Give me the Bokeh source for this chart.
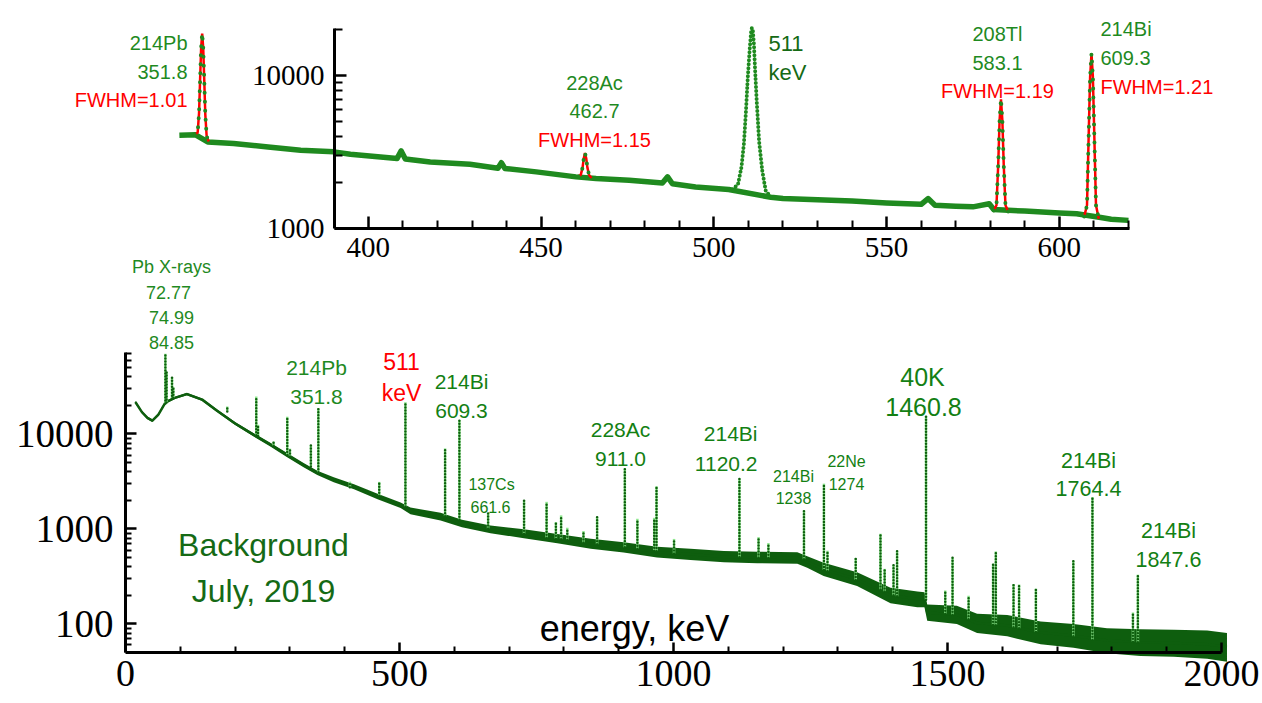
import math
from bokeh.plotting import figure
from bokeh.models import (Label, FixedTicker, Range1d, BasicTickFormatter, LinearAxis, LogAxis,
                          LogScale)
from bokeh.embed import file_html
from bokeh.resources import INLINE

# ---------------- main spectrum: continuum (keV, counts, band low/high) ----------------
main_energy = [18, 30, 40, 49, 60, 73, 90, 112, 140, 167, 200, 234, 265, 295, 325, 350, 380, 417,
               460, 502, 520, 575, 614, 666, 727, 788, 849, 909, 970, 1031, 1092, 1153, 1226, 1244,
               1274, 1335, 1396, 1445, 1458, 1463, 1517, 1554, 1609, 1670, 1730, 1791, 1852, 1913,
               1974, 2010]
main_counts = [21700, 17000, 14800, 13800, 16000, 21500, 24000, 26300, 23000, 17600, 12900, 9800,
               7700, 6000, 4700, 3900, 3300, 2780, 2200, 1780, 1550, 1350, 1140, 990, 890, 790, 700,
               640, 570, 540, 510, 500, 495, 450, 375, 295, 200, 183, 180, 132, 125, 102, 96, 81, 75,
               67, 64, 63, 61, 57]
main_low = [21000, 16500, 14300, 13400, 15500, 20800, 23300, 25500, 22300, 17000, 12400, 9400,
            7350, 5700, 4450, 3700, 3100, 2620, 2060, 1660, 1430, 1230, 1040, 900, 800, 705, 620,
            565, 500, 470, 445, 435, 430, 390, 320, 250, 165, 150, 150, 108, 100, 80, 74, 61, 56,
            49, 46, 45, 43, 40]
main_high = [22400, 17500, 15300, 14200, 16500, 22200, 24700, 27100, 23700, 18200, 13400, 10200,
             8050, 6300, 4950, 4100, 3500, 2950, 2350, 1900, 1680, 1480, 1250, 1090, 990, 885, 790,
             725, 650, 620, 585, 575, 570, 515, 440, 350, 240, 220, 215, 160, 155, 128, 124, 106,
             100, 90, 88, 87, 85, 80]

# ---------------- main spectrum: gamma lines (keV, peak top, foot) ----------------
line_energy = [72.8, 75.0, 84.9, 87.3, 185.7, 238.6, 241.9, 270.2, 295.2, 300.1, 338.3, 351.9,
               409.5, 463.0, 510.8, 583.2, 609.3, 661.7, 727.3, 768.4, 785.4, 794.9, 806.2, 835.7,
               860.6, 911.2, 934.1, 964.8, 969.0, 1001.0, 1120.3, 1155.2, 1173.2, 1238.1, 1274.5,
               1281.0, 1332.5, 1377.7, 1385.3, 1401.5, 1408.0, 1460.8, 1495.9, 1509.2, 1538.5,
               1583.2, 1588.2, 1620.5, 1630.6, 1661.3, 1729.6, 1764.5, 1838.4, 1847.4]
line_top = [70000, 45000, 39500, 31000, 19500, 24800, 12500, 8300, 15200, 7000, 7650, 18700,
            3150, 3130, 21600, 7050, 14000, 1470, 2000, 1930, 1180, 1390, 1030, 950, 1340, 4330,
            1280, 1310, 2820, 785, 3400, 820, 710, 1570, 3000, 590, 495, 890, 380, 420, 590, 15500,
            225, 500, 198, 430, 580, 263, 260, 235, 465, 2170, 132, 330]
line_base = [21000, 21500, 23500, 24000, 17200, 9700, 9500, 7500, 6000, 5800, 4550, 3950,
             2750, 2230, 1720, 1360, 1250, 1010, 890, 810, 790, 780, 770, 720, 690, 640, 620, 590,
             585, 550, 505, 500, 498, 480, 370, 360, 290, 230, 220, 200, 195, 180, 128, 125, 112,
             98, 97, 92, 90, 82, 74, 68, 65, 64]

# ---------------- inset: continuum 345-620 keV ----------------
inset_energy = [345.3, 350.0, 353.5, 361, 371, 380.4, 390, 394.8, 408.3, 409.5, 410.7, 417.9,
                429.4, 437.5, 438.5, 439.5, 448.6, 460.1, 465.9, 475.5, 485.1, 486.6, 488, 494.7,
                504.3, 516.5, 520, 530, 540, 550, 560, 562, 564, 570, 575, 579.7, 581, 590, 600,
                605, 612, 615, 620]
inset_counts = [4070, 4100, 3680, 3600, 3410, 3250, 3170, 3060, 2865, 3215, 2850, 2720, 2630,
                2480, 2690, 2470, 2345, 2175, 2120, 2070, 1985, 2175, 1960, 1870, 1800, 1600, 1570,
                1540, 1515, 1470, 1440, 1570, 1420, 1400, 1385, 1450, 1330, 1300, 1265, 1250, 1180,
                1150, 1130]

# fitted peaks (red curves) in the inset
fit_352_energy = [349.8, 350.6, 351.0, 351.3, 351.6, 351.9, 352.2, 352.5, 352.8, 353.2, 353.8]
fit_352_counts = [4080, 4250, 5700, 9400, 15200, 18800, 15200, 9400, 5600, 4000, 3700]
fit_463_energy = [460.8, 461.5, 462.0, 462.35, 462.7, 463.05, 463.4, 463.9, 464.6]
fit_463_counts = [2190, 2250, 2500, 2880, 3120, 2880, 2500, 2230, 2140]
fit_583_energy = [581.0, 581.8, 582.3, 582.7, 583.1, 583.5, 583.9, 584.4, 585.2]
fit_583_counts = [1310, 1420, 2600, 5100, 7000, 5100, 2600, 1420, 1290]
fit_609_energy = [607.2, 608.0, 608.5, 608.9, 609.3, 609.7, 610.1, 610.6, 611.4]
fit_609_counts = [1200, 1420, 4200, 9800, 13900, 9800, 4200, 1420, 1160]

# annihilation peak (dots only)
ann_511_energy = [505.5, 507.0, 508.0, 508.7, 509.3, 509.8, 510.4, 510.8, 511.0, 511.3, 511.6,
                  511.9, 512.4, 513.1, 514.0, 515.0, 516.5]
ann_511_counts = [1800, 1950, 2530, 3600, 5900, 9600, 15200, 19500, 20500, 19500, 16000, 11300,
                  6800, 3700, 2390, 1770, 1600]

# ---------------- ticks ----------------
main_x_ticks = [0, 500, 1000, 1500, 2000]
main_x_minor = [100, 200, 300, 400, 600, 700, 800, 900, 1100, 1200, 1300, 1400, 1600, 1700,
                1800, 1900]
main_y_ticks = [100, 1000, 10000]
main_y_minor = [60, 70, 80, 90, 200, 300, 400, 500, 600, 700, 800, 900, 2000, 3000, 4000, 5000,
                6000, 7000, 8000, 9000, 20000, 30000, 40000, 50000, 60000, 70000]
inset_x_ticks = [400, 450, 500, 550, 600]
inset_x_minor = [410, 420, 430, 440, 460, 470, 480, 490, 510, 520, 530, 540, 560, 570, 580, 590,
                 610, 620]
inset_y_ticks = [1000, 10000]
inset_y_minor = [2000, 3000, 4000, 5000, 6000, 7000, 8000, 9000, 20000]

# ---------------- geometry (page pixels) ----------------
W, H = 1262, 703
MAIN_X = (0, 125, 2000, 1221)          # value, px, value, px
MAIN_Y = (50, 652, 72100, 352)
INSET_X = (390.2, 334, 620.3, 1129)
INSET_Y = (1000, 228, 20300, 28)

GREEN = "#1f8a1f"
MGREEN = "#138013"
DGREEN = "#156a15"
RED = "#ff0000"
SPEC = "#0e5e0e"
LIGHT = "#8fe88f"
SERIF = "Liberation Serif"
SANS = "Liberation Sans"


def lin_range(spec, total):
    v0, p0, v1, p1 = spec
    k = (p1 - p0) / (v1 - v0)
    start = v0 - p0 / k
    return start, start + total / k


def log_range(spec, total):
    v_lo, p_lo, v_hi, p_hi = spec
    k = (p_lo - p_hi) / (math.log10(v_hi) - math.log10(v_lo))
    top = math.log10(v_hi) + p_hi / k
    bottom = math.log10(v_lo) - (total - p_lo) / k
    return 10 ** bottom, 10 ** top


mxs, mxe = lin_range(MAIN_X, W)
mys, mye = log_range(MAIN_Y, H)
ixs, ixe = lin_range(INSET_X, W)
iys, iye = log_range(INSET_Y, H)


def page_pt(px, py):
    x = mxs + px * (mxe - mxs) / W
    ly = math.log10(mye) - py * (math.log10(mye) - math.log10(mys)) / H
    return x, 10 ** ly


p = figure(width=W, height=H, y_axis_type="log",
           x_range=Range1d(mxs, mxe), y_range=Range1d(mys, mye),
           x_axis_location=None, y_axis_location=None,
           output_backend="svg", toolbar_location=None,
           min_border=0, min_border_left=0, min_border_right=0,
           min_border_top=0, min_border_bottom=0)
p.extra_x_ranges = {"inset": Range1d(ixs, ixe)}
p.extra_y_ranges = {"inset": Range1d(iys, iye)}
p.extra_y_scales = {"inset": LogScale()}
p.grid.visible = False
p.outline_line_color = None
p.background_fill_color = "white"
p.border_fill_color = "white"


def style_axis(ax, size, maj_in, min_in, standoff):
    ax.axis_line_width = 3
    ax.axis_line_color = "black"
    ax.major_tick_line_width = 2.5
    ax.minor_tick_line_width = 2
    ax.major_tick_out = 0
    ax.minor_tick_out = 0
    ax.major_tick_in = maj_in
    ax.minor_tick_in = min_in
    ax.major_label_text_font = SERIF
    ax.major_label_text_color = "black"
    ax.major_label_text_font_size = f"{size}px"
    ax.major_label_standoff = standoff


# main axes
ax_mx = LinearAxis(fixed_location=MAIN_Y[0], bounds=(MAIN_X[0], MAIN_X[2]),
                   ticker=FixedTicker(ticks=main_x_ticks, minor_ticks=main_x_minor))
style_axis(ax_mx, 38, 10, 6, 8)
p.add_layout(ax_mx, "below")
ax_my = LogAxis(fixed_location=MAIN_X[0], bounds=(MAIN_Y[0], MAIN_Y[2]),
                ticker=FixedTicker(ticks=main_y_ticks, minor_ticks=main_y_minor),
                formatter=BasicTickFormatter(use_scientific=False))
style_axis(ax_my, 39, 11, 6, 12)
p.add_layout(ax_my, "left")

# inset axes
ax_ix = LinearAxis(x_range_name="inset", y_range_name="inset",
                   fixed_location=INSET_Y[0], bounds=(INSET_X[0], INSET_X[2]),
                   ticker=FixedTicker(ticks=inset_x_ticks, minor_ticks=inset_x_minor))
style_axis(ax_ix, 29, 12, 8, 9)
p.add_layout(ax_ix, "below")
ax_iy = LogAxis(x_range_name="inset", y_range_name="inset",
                fixed_location=INSET_X[0], bounds=(INSET_Y[0], INSET_Y[2]),
                ticker=FixedTicker(ticks=inset_y_ticks, minor_ticks=inset_y_minor),
                formatter=BasicTickFormatter(use_scientific=False))
style_axis(ax_iy, 29, 12, 8, 10)
p.add_layout(ax_iy, "left")

# ---------------- inset glyphs ----------------
IN = dict(x_range_name="inset", y_range_name="inset")
p.line(inset_energy, inset_counts, line_width=5.5, color=GREEN, line_join="round", **IN)
p.line(ann_511_energy, ann_511_counts, line_width=4, color=GREEN,
       line_dash="0 4", line_cap="round", **IN)
for fe, fc in ((fit_352_energy, fit_352_counts), (fit_463_energy, fit_463_counts),
               (fit_583_energy, fit_583_counts), (fit_609_energy, fit_609_counts)):
    p.line(fe, fc, line_width=2.5, color=RED, **IN)
    p.line(fe, fc, line_width=4, color=GREEN, line_dash="0 9", line_cap="round", **IN)

# ---------------- main glyphs ----------------
p.varea(x=main_energy, y1=main_low, y2=main_high, color=SPEC)
p.line(main_energy, main_counts, line_width=2.5, color=SPEC)
p.segment(x0=line_energy, y0=line_base, x1=line_energy, y1=line_top,
          line_width=2.5, color=LIGHT)
p.segment(x0=line_energy, y0=line_base, x1=line_energy, y1=line_top,
          line_width=2.5, color=SPEC, line_dash="0 3", line_cap="round")


def add_label(px, py, text, size, color, align="center", font=SANS):
    x, y = page_pt(px, py)
    p.add_layout(Label(x=x, y=y, text=text, text_font=font, text_font_size=f"{size}px",
                       text_color=color, text_align=align, text_baseline="alphabetic"))


# inset annotations
add_label(187, 42, "214Pb", 20, GREEN, "right")
add_label(187, 71, "351.8", 20, GREEN, "right")
add_label(187, 99, "FWHM=1.01", 20, RED, "right")
add_label(594, 82, "228Ac", 20, GREEN)
add_label(594, 110, "462.7", 20, GREEN)
add_label(594, 139, "FWHM=1.15", 20, RED)
add_label(768, 43, "511", 22, DGREEN, "left")
add_label(768, 72, "keV", 22, DGREEN, "left")
add_label(997, 33, "208Tl", 20, GREEN)
add_label(997, 62, "583.1", 20, GREEN)
add_label(997, 90, "FWHM=1.19", 20, RED)
add_label(1100, 28, "214Bi", 20, GREEN, "left")
add_label(1100, 57, "609.3", 20, GREEN, "left")
add_label(1100, 86, "FWHM=1.21", 20, RED, "left")

# main annotations
add_label(171, 266, "Pb X-rays", 18, GREEN)
add_label(168, 292, "72.77", 18, GREEN)
add_label(171, 317, "74.99", 18, GREEN)
add_label(171, 342, "84.85", 18, GREEN)
add_label(316, 367, "214Pb", 21, GREEN)
add_label(316, 396, "351.8", 21, GREEN)
add_label(401, 361, "511", 23, RED)
add_label(401, 392, "keV", 23, RED)
add_label(461, 381, "214Bi", 21, MGREEN)
add_label(461, 410, "609.3", 21, MGREEN)
add_label(491, 484, "137Cs", 16, MGREEN)
add_label(490, 506, "661.6", 16, MGREEN)
add_label(620, 429, "228Ac", 21, MGREEN)
add_label(620, 458, "911.0", 21, MGREEN)
add_label(757, 433, "214Bi", 21, MGREEN, "right")
add_label(757, 463, "1120.2", 21, MGREEN, "right")
add_label(793, 476, "214Bi", 16, MGREEN)
add_label(793, 497, "1238", 16, MGREEN)
add_label(846, 461, "22Ne", 16, MGREEN)
add_label(846, 483, "1274", 16, MGREEN)
add_label(922, 376, "40K", 25, MGREEN)
add_label(923, 406, "1460.8", 25, MGREEN)
add_label(1088, 460, "214Bi", 21.5, MGREEN)
add_label(1088, 488, "1764.4", 21.5, MGREEN)
add_label(1168, 530, "214Bi", 21.5, MGREEN)
add_label(1168, 559, "1847.6", 21.5, MGREEN)
add_label(263, 544, "Background", 32, DGREEN)
add_label(263, 590, "July, 2019", 32, DGREEN)
add_label(634, 628, "energy, keV", 36, "black")

open("out.html", "w").write(file_html(p, INLINE))
